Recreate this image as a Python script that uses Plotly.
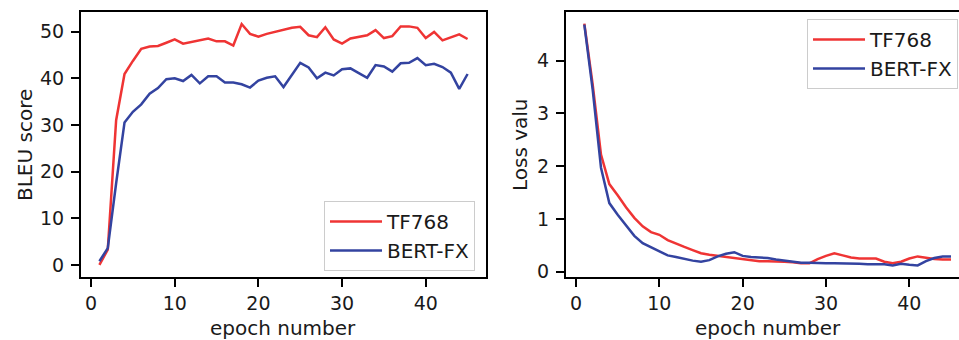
import plotly.graph_objects as go

epochs = list(range(1, 46))
bleu_tf768 = [0.0, 3.3, 31.0, 40.9, 43.7, 46.3, 46.8, 46.9, 47.6, 48.3, 47.4, 47.8, 48.1, 48.5, 47.9,
              47.9, 47.0, 51.6, 49.5, 48.9, 49.5, 49.9, 50.3, 50.8, 51.0, 49.2, 48.8, 50.9, 48.3, 47.4,
              48.5, 48.8, 49.2, 50.3, 48.6, 49.0, 51.1, 51.1, 50.8, 48.6, 49.9, 48.1, 48.8, 49.4, 48.4]
bleu_bert = [0.8, 3.6, 17.5, 30.5, 32.8, 34.4, 36.7, 37.9, 39.8, 40.0, 39.4, 40.7, 38.9, 40.4, 40.4,
             39.1, 39.1, 38.7, 38.0, 39.5, 40.1, 40.4, 38.1, 40.7, 43.3, 42.3, 40.0, 41.2, 40.6, 41.9,
             42.1, 41.1, 40.1, 42.8, 42.5, 41.4, 43.2, 43.3, 44.3, 42.8, 43.1, 42.4, 41.2, 37.7, 40.9]
loss_tf768 = [4.70, 3.55, 2.22, 1.66, 1.45, 1.22, 1.02, 0.86, 0.75, 0.70, 0.60, 0.53, 0.47, 0.41, 0.35,
              0.32, 0.30, 0.27, 0.25, 0.23, 0.22, 0.20, 0.20, 0.20, 0.19, 0.18, 0.16, 0.16, 0.24, 0.30,
              0.35, 0.31, 0.27, 0.25, 0.25, 0.25, 0.19, 0.16, 0.19, 0.25, 0.29, 0.26, 0.24, 0.23, 0.23]
loss_bert = [4.68, 3.45, 1.97, 1.30, 1.08, 0.88, 0.68, 0.54, 0.46, 0.38, 0.31, 0.28, 0.24, 0.21, 0.19,
             0.22, 0.29, 0.34, 0.37, 0.30, 0.28, 0.27, 0.26, 0.23, 0.21, 0.20, 0.17, 0.17, 0.16, 0.16,
             0.16, 0.16, 0.15, 0.15, 0.14, 0.14, 0.14, 0.12, 0.15, 0.13, 0.12, 0.20, 0.26, 0.29, 0.29]
series_names = ["TF768", "BERT-FX"]
x_ticks = [0, 10, 20, 30, 40]
bleu_ticks = [0, 10, 20, 30, 40, 50]
loss_ticks = [0, 1, 2, 3, 4]

RED = "#ef3434"
BLUE = "#3343a0"
FONT = "DejaVu Sans"
TXT = "#1a1a1a"
W, H = 959, 340

fig = go.Figure()
fig.add_trace(go.Scatter(x=epochs, y=bleu_tf768, mode="lines", name=series_names[0],
                         line=dict(color=RED, width=2.5), xaxis="x", yaxis="y", legend="legend"))
fig.add_trace(go.Scatter(x=epochs, y=bleu_bert, mode="lines", name=series_names[1],
                         line=dict(color=BLUE, width=2.5), xaxis="x", yaxis="y", legend="legend"))
fig.add_trace(go.Scatter(x=epochs, y=loss_tf768, mode="lines", name=series_names[0],
                         line=dict(color=RED, width=2.5), xaxis="x2", yaxis="y2", legend="legend2"))
fig.add_trace(go.Scatter(x=epochs, y=loss_bert, mode="lines", name=series_names[1],
                         line=dict(color=BLUE, width=2.5), xaxis="x2", yaxis="y2", legend="legend2"))

def px_x(p):
    return p / W

def px_y(p):
    return 1 - p / H

axis_common = dict(showline=True, linecolor="black", linewidth=2, ticks="outside", ticklen=8,
                   tickwidth=2, tickcolor="black", showgrid=False, zeroline=False, automargin=False,
                   tickfont=dict(family=FONT, size=19, color=TXT))

legend_common = dict(bgcolor="white", bordercolor="#cccccc", borderwidth=1, itemwidth=52,
                     font=dict(family=FONT, size=20, color=TXT))

def label(text, x, y, angle=0):
    return dict(text=text, x=px_x(x), y=px_y(y), xref="paper", yref="paper", textangle=angle,
                xanchor="center", yanchor="middle", showarrow=False,
                font=dict(family=FONT, size=20, color=TXT))

fig.update_layout(
    width=W, height=H,
    margin=dict(l=0, r=0, t=0, b=0, autoexpand=False),
    paper_bgcolor="white", plot_bgcolor="white",
    font=dict(family=FONT, size=19, color=TXT),
    xaxis=dict(domain=[px_x(81), px_x(486)], range=[-1.2, 47.2], tickvals=x_ticks, mirror=True,
               anchor="y", **axis_common),
    yaxis=dict(domain=[px_y(277), px_y(12)], range=[-2.58, 54.18], tickvals=bleu_ticks, mirror=True,
               anchor="x", ticklabelstandoff=3, **axis_common),
    xaxis2=dict(domain=[px_x(566), 1.0], range=[-1.2, 45.96], tickvals=x_ticks, mirror=True,
                anchor="y2", **axis_common),
    yaxis2=dict(domain=[px_y(277), px_y(12)], range=[-0.1, 4.92], tickvals=loss_ticks, mirror=False,
                anchor="x2", ticklabelstandoff=3, **axis_common),
    legend=dict(x=px_x(475), y=px_y(271), xanchor="right", yanchor="bottom", **legend_common),
    legend2=dict(x=px_x(958), y=px_y(19), xanchor="right", yanchor="top", **legend_common),
    showlegend=True,
    annotations=[
        label("BLEU score", 25, 145, -90),
        label("epoch number", 283, 328),
        label("Loss valu", 520, 145, -90),
        label("epoch number", 768, 328),
    ],
)

fig.write_html("out.html", config={"displayModeBar": False},
               post_script="document.body.style.margin='0';document.body.style.padding='0';")
